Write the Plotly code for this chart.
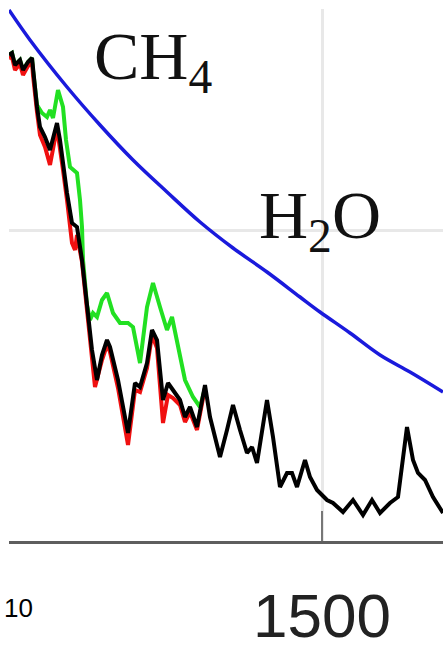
"""
Spectrum detail around 1500 cm-1: measured vs fitted traces with CH4 / H2O baseline
"""
import plotly.graph_objects as go

# Wavenumber axis (cm-1) and intensities (arbitrary units)
black_x = [1187, 1190, 1193, 1198, 1201, 1206, 1210, 1211, 1215, 1218, 1223, 1228,
           1235, 1238, 1241, 1245, 1250, 1255, 1260, 1265, 1270, 1275, 1280, 1285,
           1288, 1296, 1306, 1313, 1318, 1325, 1330, 1335, 1341, 1346, 1351, 1358,
           1363, 1368, 1375, 1383, 1388, 1398, 1405, 1411, 1418, 1425, 1430, 1435,
           1445, 1451, 1458, 1465, 1470, 1475, 1483, 1488, 1495, 1505, 1511, 1521,
           1531, 1541, 1550, 1558, 1568, 1576, 1585, 1591, 1596, 1603, 1611, 1621]
black_y = [486, 488, 476, 481, 471, 479, 483, 471, 434, 414, 404, 391,
           418, 401, 378, 348, 318, 314, 281, 234, 191, 161, 186, 201,
           194, 161, 108, 158, 154, 178, 211, 201, 141, 158, 151, 141,
           124, 134, 114, 156, 124, 84, 111, 136, 111, 88, 94, 78,
           141, 104, 54, 68, 68, 54, 81, 64, 51, 41, 38, 29,
           41, 26, 41, 28, 38, 44, 114, 81, 68, 61, 44, 28]

red_x = [1187, 1190, 1193, 1198, 1201, 1206, 1210, 1211, 1215, 1218, 1223, 1228,
         1235, 1238, 1241, 1245, 1250, 1253, 1255, 1260, 1265, 1270, 1273, 1280,
         1285, 1288, 1296, 1306, 1313, 1318, 1325, 1330, 1335, 1341, 1346, 1351,
         1358, 1363, 1368, 1375, 1383]
red_y = [483, 484, 471, 477, 466, 475, 479, 466, 429, 406, 394, 376,
         413, 395, 371, 341, 298, 291, 306, 279, 231, 186, 154, 181,
         196, 189, 153, 96, 151, 149, 173, 206, 193, 118, 146, 143,
         136, 119, 129, 111, 153]

green_x = [1187, 1190, 1193, 1198, 1201, 1206, 1210, 1211, 1215, 1220, 1225, 1228,
           1231, 1236, 1241, 1244, 1248, 1255, 1258, 1260, 1261, 1265, 1268, 1271,
           1275, 1280, 1285, 1291, 1298, 1306, 1311, 1318, 1325, 1331, 1338, 1345,
           1350, 1355, 1363, 1371, 1378, 1383]
green_y = [486, 488, 476, 481, 471, 479, 483, 471, 436, 428, 424, 431,
           423, 451, 434, 401, 374, 368, 341, 314, 281, 236, 221, 228,
           224, 241, 248, 228, 218, 218, 214, 178, 234, 258, 234, 211,
           224, 201, 161, 144, 134, 153]

blue_x = [1187, 1208, 1245, 1278, 1311, 1345, 1378, 1411, 1445, 1478, 1498,
          1528, 1558, 1588, 1621]
blue_y = [531, 501, 454, 416, 381, 349, 319, 293, 269, 244, 229,
          208, 186, 169, 149]

x_ticks = [1500]
y_grid = [311]

fig = go.Figure()

fig.add_trace(go.Scatter(x=green_x, y=green_y, mode='lines',
                         line=dict(color='#22e022', width=4)))
fig.add_trace(go.Scatter(x=red_x, y=red_y, mode='lines',
                         line=dict(color='#f01010', width=4)))
fig.add_trace(go.Scatter(x=black_x, y=black_y, mode='lines',
                         line=dict(color='#000000', width=4)))
fig.add_trace(go.Scatter(x=blue_x, y=blue_y, mode='lines', line_shape='spline',
                         line=dict(color='#1a1adc', width=3.5)))

# molecule labels
fig.add_annotation(x=1331, y=481, text='CH<sub>4</sub>', showarrow=False,
                   font=dict(family='Liberation Serif', size=68, color='#111'))
fig.add_annotation(x=1498, y=322, text='H<sub>2</sub>O', showarrow=False,
                   font=dict(family='Liberation Serif', size=68, color='#111'))

# stray tick label cut off at the left edge
fig.add_annotation(xref='paper', yref='paper', x=-0.017, y=-0.126,
                   xanchor='left', yanchor='middle', text='10', showarrow=False,
                   font=dict(family='Liberation Sans', size=26, color='#000'))

fig.update_layout(
    width=443, height=649,
    margin=dict(l=9, r=0, t=9, b=108, pad=0),
    paper_bgcolor='white', plot_bgcolor='white',
    showlegend=False,
    xaxis=dict(range=[1187, 1621], tickvals=x_ticks, ticktext=['1500'],
               automargin=False,
               showgrid=True, gridcolor='#e8e8e8', gridwidth=3,
               ticks='inside', ticklen=30, tickwidth=2, tickcolor='#777',
               showline=True, linecolor='#5e5e5e', linewidth=3,
               tickfont=dict(family='Liberation Sans', size=62, color='#222'),
               ticklabelstandoff=19, zeroline=False),
    yaxis=dict(range=[0, 532], tickvals=y_grid, showticklabels=False,
               automargin=False,
               showgrid=True, gridcolor='#e8e8e8', gridwidth=3,
               ticks='', showline=False, zeroline=False),
)

# page has a default 8px body margin; drop it so the figure fills the window
fig.write_html("out.html", config={'displayModeBar': False},
               post_script="document.body.style.margin='0';"
                           "document.body.style.overflow='hidden';")
